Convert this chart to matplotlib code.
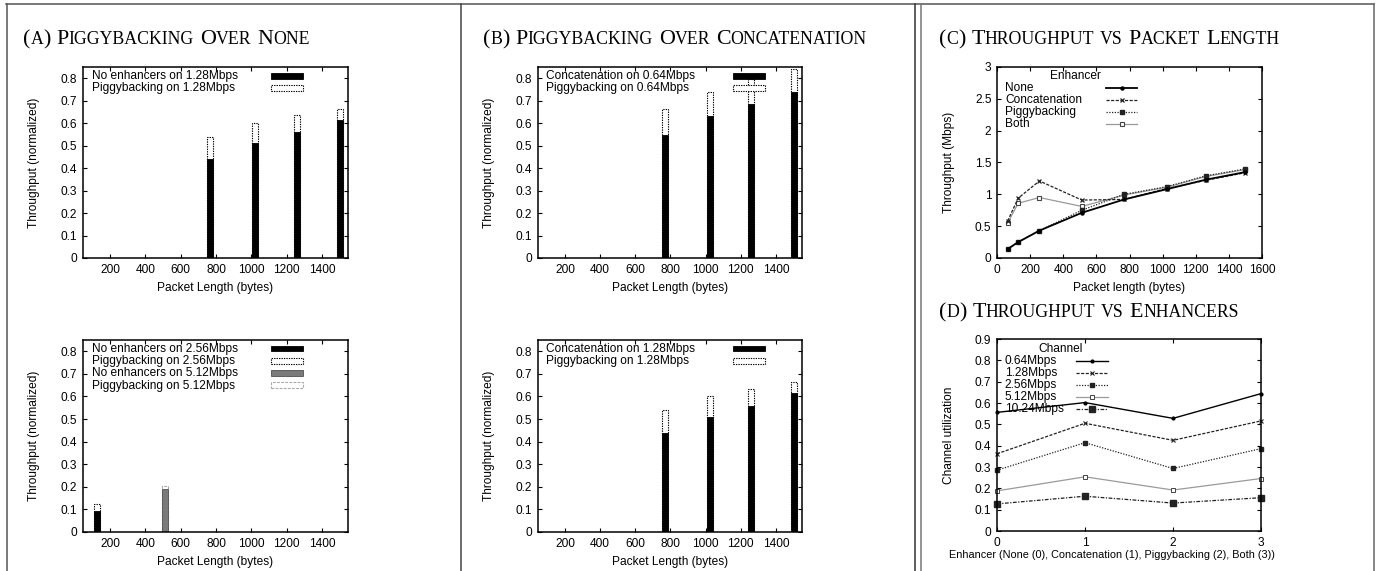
#%% Librerías
import matplotlib
matplotlib.use("Agg")
import matplotlib.pyplot as plt
from matplotlib.lines import Line2D
from matplotlib.patches import Rectangle
from matplotlib.offsetbox import TextArea, HPacker, AnchoredOffsetbox
from matplotlib.ticker import FormatStrFormatter, MultipleLocator

plt.rcParams['font.family'] = ['Liberation Sans', 'DejaVu Sans']

#%% Datos

# (a) arriba: 1.28Mbps
largo_barras = [768, 1024, 1260, 1500]
ninguno_128 = [0.44, 0.51, 0.56, 0.615]
piggy_128 = [0.54, 0.60, 0.635, 0.665]

# (a) abajo: 2.56Mbps y 5.12Mbps
largo_256 = [128]
ninguno_256 = [0.095]
piggy_256 = [0.125]
largo_512 = [512]
ninguno_512 = [0.19]
piggy_512 = [0.204]

# (b) arriba: 0.64Mbps
concat_064 = [0.548, 0.634, 0.686, 0.738]
piggy_064 = [0.664, 0.738, 0.797, 0.84]

# (b) abajo: 1.28Mbps
concat_128 = [0.44, 0.51, 0.56, 0.615]
piggy_concat_128 = [0.54, 0.60, 0.635, 0.665]

# (c) throughput vs largo de paquete
largo_c = [64, 128, 256, 512, 768, 1024, 1260, 1500]
c_none = [0.14, 0.25, 0.43, 0.71, 0.92, 1.08, 1.23, 1.35]
c_concat = [0.58, 0.94, 1.21, 0.91, 0.92, 1.09, 1.22, 1.34]
c_piggy = [0.14, 0.25, 0.43, 0.75, 1.00, 1.12, 1.29, 1.40]
c_both = [0.55, 0.86, 0.95, 0.81, 0.99, 1.11, 1.28, 1.39]
nombres_c = ["None", "Concatenation", "Piggybacking", "Both"]

# (d) utilización vs enhancer
enhancer = [0, 1, 2, 3]
d_064 = [0.556, 0.602, 0.528, 0.644]
d_128 = [0.362, 0.505, 0.425, 0.516]
d_256 = [0.285, 0.414, 0.293, 0.386]
d_512 = [0.188, 0.254, 0.192, 0.246]
d_1024 = [0.127, 0.163, 0.131, 0.156]
nombres_d = ["0.64Mbps", "1.28Mbps", "2.56Mbps", "5.12Mbps", "10.24Mbps"]

#%% Estilos
FS = 8.6
ancho = 34
negro = dict(facecolor='black', edgecolor='black', linewidth=0.6)
punteado = dict(facecolor='white', edgecolor='black', linestyle=(0, (1.2, 1.0)), linewidth=0.8)
gris = dict(facecolor='#7a7a7a', edgecolor='#505050', linewidth=0.6)
gris_claro = dict(facecolor='white', edgecolor='#a8a8a8', linestyle=(0, (2.5, 1.2)), linewidth=0.8)

est_c = [
    dict(color='black', linestyle='-', linewidth=1.3, marker='o', markersize=2.2),
    dict(color='#222222', linestyle=(0, (2.5, 1.2)), linewidth=0.9, marker='x', markersize=3.5, markeredgewidth=0.9),
    dict(color='#222222', linestyle=(0, (1, 1.2)), linewidth=0.9, marker='s', markersize=3.0),
    dict(color='#9a9a9a', linestyle='-', linewidth=0.9, marker='s', markersize=3.5, markerfacecolor='white', markeredgecolor='#444444', markeredgewidth=0.8),
]
est_d = [
    dict(color='black', linestyle='-', linewidth=1.0, marker='o', markersize=2.0),
    dict(color='#222222', linestyle=(0, (2.5, 1.2)), linewidth=0.9, marker='x', markersize=2.8, markeredgewidth=0.8),
    dict(color='#222222', linestyle=(0, (1, 1.2)), linewidth=0.9, marker='s', markersize=2.4),
    dict(color='#9a9a9a', linestyle='-', linewidth=0.9, marker='s', markersize=3.2, markerfacecolor='white', markeredgecolor='#444444', markeredgewidth=0.7),
    dict(color='#222222', linestyle=(0, (3, 1.2, 1, 1.2)), linewidth=0.9, marker='s', markersize=3.8),
]


def ejes(pos, xlim, ylim, xpaso, ypaso, xlabel, ylabel, ylab_x, xlab_y, xlab_fs=FS, xlab_x=0.5):
    ax = fig.add_axes(pos)
    ax.set_xlim(*xlim)
    ax.set_ylim(*ylim)
    ax.xaxis.set_major_locator(MultipleLocator(xpaso))
    ax.yaxis.set_major_locator(MultipleLocator(ypaso))
    ax.yaxis.set_major_formatter(FormatStrFormatter('%g'))
    ax.xaxis.set_major_formatter(FormatStrFormatter('%g'))
    ax.tick_params(direction='in', top=True, right=True, length=3, width=0.8,
                   labelsize=FS, pad=4)
    for s in ax.spines.values():
        s.set_linewidth(1.1)
    ax.set_xlabel(xlabel, fontsize=xlab_fs)
    ax.set_ylabel(ylabel, fontsize=FS)
    ax.yaxis.set_label_coords(ylab_x, 0.5)
    ax.xaxis.set_label_coords(xlab_x, xlab_y)
    return ax


def leyenda_barras(ax, textos, estilos, x_txt, x0, x1, y0, dy=0.064):
    for i, (t, e) in enumerate(zip(textos, estilos)):
        y = y0 - i * dy
        ax.text(x_txt, y, t, transform=ax.transAxes, fontsize=FS, va='center', ha='left')
        ax.add_artist(Rectangle((x0, y - 0.014), x1 - x0, 0.03, transform=ax.transAxes,
                                clip_on=False, **e))


def leyenda_lineas(ax, titulo, x_tit, textos, estilos, x_txt, x0, x1, y0, dy=0.0625):
    ax.text(x_tit, y0 + dy, titulo, transform=ax.transAxes, fontsize=FS, va='center', ha='left')
    for i, (t, e) in enumerate(zip(textos, estilos)):
        y = y0 - i * dy
        ax.text(x_txt, y, t, transform=ax.transAxes, fontsize=FS, va='center', ha='left')
        ax.add_artist(Line2D([x0, (x0 + x1) / 2, x1], [y, y, y], markevery=[1],
                             transform=ax.transAxes, clip_on=False, **e))


def titulo_sc(x, y, texto, grande=15.8, chica=12.8):
    # versalitas: minúsculas en mayúscula más chica
    palabras = []
    for pal in texto.split(' '):
        partes = []
        actual, tam = '', None
        for ch in pal:
            t = chica if ch.islower() else grande
            if tam is not None and t != tam:
                partes.append(TextArea(actual, textprops=dict(fontsize=tam, family='Liberation Serif')))
                actual = ''
            actual += ch.upper()
            tam = t
        partes.append(TextArea(actual, textprops=dict(fontsize=tam, family='Liberation Serif')))
        palabras.append(HPacker(children=partes, align='baseline', pad=0, sep=0))
    caja = HPacker(children=palabras, align='baseline', pad=0, sep=4.2)
    ab = AnchoredOffsetbox(loc='lower left', child=caja, pad=0, borderpad=0, frameon=False,
                           bbox_to_anchor=(x, y), bbox_transform=fig.transFigure)
    fig.add_artist(ab)


#%% Figura
W, H = 1377, 571
fig = plt.figure(figsize=(W / 100, H / 100), dpi=100)


def caja_px(x0, y0, x1, y1):
    return [x0 / W, 1 - y1 / H, (x1 - x0) / W, (y1 - y0) / H]


# Marcos de los paneles
for xs, ys, c in [([6, 1374], [4, 4], '#555555'),
                  ([6.5, 6.5], [4, 571], '#555555'),
                  ([461, 461], [4, 571], '#444444'),
                  ([915, 915], [4, 571], '#333333'),
                  ([921, 921], [4, 571], '#777777'),
                  ([1374, 1374], [4, 571], '#666666')]:
    fig.add_artist(Line2D([x / W for x in xs], [1 - y / H for y in ys], color=c, linewidth=1.1))

xl_barras = (47, 1548)

#%% (a) arriba
ax = ejes(caja_px(83, 67, 348, 258), xl_barras, (0, 0.85), 200, 0.1,
          "Packet Length (bytes)", "Throughput (normalized)", -0.162, -0.125)
ax.bar(largo_barras, piggy_128, width=ancho, **punteado)
ax.bar(largo_barras, ninguno_128, width=ancho, **negro)
leyenda_barras(ax, ["No enhancers on 1.28Mbps", "Piggybacking on 1.28Mbps"],
               [negro, punteado], 0.034, 0.71, 0.83, 0.953)

#%% (a) abajo
ax = ejes(caja_px(83, 340, 348, 532), xl_barras, (0, 0.85), 200, 0.1,
          "Packet Length (bytes)", "Throughput (normalized)", -0.162, -0.125)
ax.bar(largo_256, piggy_256, width=ancho, **punteado)
ax.bar(largo_256, ninguno_256, width=ancho, **negro)
ax.bar(largo_512, piggy_512, width=ancho, **gris_claro)
ax.bar(largo_512, ninguno_512, width=ancho, **gris)
leyenda_barras(ax, ["No enhancers on 2.56Mbps", "Piggybacking on 2.56Mbps",
                    "No enhancers on 5.12Mbps", "Piggybacking on 5.12Mbps"],
               [negro, punteado, gris, gris_claro], 0.034, 0.71, 0.83, 0.955)

#%% (b) arriba
ax = ejes(caja_px(538, 67, 802, 258), xl_barras, (0, 0.85), 200, 0.1,
          "Packet Length (bytes)", "Throughput (normalized)", -0.163, -0.125)
ax.bar(largo_barras, piggy_064, width=ancho, **punteado)
ax.bar(largo_barras, concat_064, width=ancho, **negro)
leyenda_barras(ax, ["Concatenation on 0.64Mbps", "Piggybacking on 0.64Mbps"],
               [negro, punteado], 0.03, 0.74, 0.86, 0.953)

#%% (b) abajo
ax = ejes(caja_px(538, 340, 802, 532), xl_barras, (0, 0.85), 200, 0.1,
          "Packet Length (bytes)", "Throughput (normalized)", -0.163, -0.125)
ax.bar(largo_barras, piggy_concat_128, width=ancho, **punteado)
ax.bar(largo_barras, concat_128, width=ancho, **negro)
leyenda_barras(ax, ["Concatenation on 1.28Mbps", "Piggybacking on 1.28Mbps"],
               [negro, punteado], 0.03, 0.74, 0.86, 0.955)

#%% (c)
ax = ejes(caja_px(997, 67, 1262, 258), (0, 1600), (0, 3), 200, 0.5,
          "Packet length (bytes)", "Throughput (Mbps)", -0.158, -0.125)
for serie, e in zip([c_none, c_concat, c_piggy, c_both][::-1], est_c[::-1]):
    ax.plot(largo_c, serie, **e)
leyenda_lineas(ax, "Enhancer", 0.2, nombres_c, est_c, 0.03, 0.41, 0.53, 0.89)

#%% (d)
ax = ejes(caja_px(997, 339, 1261, 531), (0, 3), (0, 0.9), 1, 0.1,
          "Enhancer (None (0), Concatenation (1), Piggybacking (2), Both (3))",
          "Channel utilization", -0.16, -0.099, xlab_fs=7.8, xlab_x=0.435)
for serie, e in zip([d_064, d_128, d_256, d_512, d_1024], est_d):
    ax.plot(enhancer, serie, clip_on=False, **e)
leyenda_lineas(ax, "Channel", 0.155, nombres_d, est_d, 0.03, 0.30, 0.42, 0.885)

#%% Títulos
titulo_sc(23 / W, 1 - 49 / H, "(a) Piggybacking Over None")
titulo_sc(483 / W, 1 - 49 / H, "(b) Piggybacking Over Concatenation")
titulo_sc(939 / W, 1 - 49 / H, "(c) Throughput vs Packet Length")
titulo_sc(939 / W, 1 - 322 / H, "(d) Throughput vs Enhancers")

fig.savefig("out.png", dpi=100)
